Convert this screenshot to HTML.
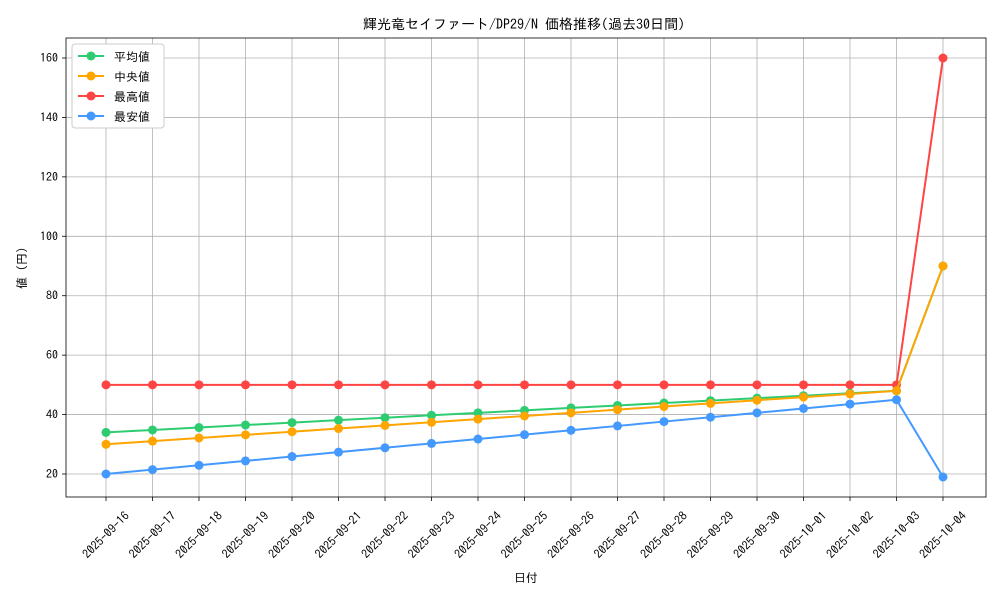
<!DOCTYPE html>
<html><head><meta charset="utf-8"><style>
body{margin:0;background:#fff;}
text{font-family:"IPAGothic","Noto Sans CJK JP",sans-serif;fill:#000;}
</style></head><body>
<svg id="s" width="1000" height="600" xmlns="http://www.w3.org/2000/svg">
<rect width="1000" height="600" fill="#fff"/>
<g id="grid" stroke="#b0b0b0" stroke-width="0.8"></g>
<rect x="66" y="38" width="920" height="459" fill="none" stroke="#000" stroke-width="0.8"/>
<g id="ticks"></g>
<g id="series"></g>
<text x="524" y="29" font-size="14" text-anchor="middle">輝光竜セイファート/DP29/N 価格推移(過去30日間)</text>
<text x="526" y="582" font-size="12" text-anchor="middle">日付</text>
<text transform="translate(26,268) rotate(-90)" font-size="12" text-anchor="middle">値 (円)</text>
<g transform="translate(72,44)">
<rect width="92" height="84" fill="#fff" stroke="#ccc" rx="3"/>
<line x1="6" y1="12" x2="32" y2="12" stroke="#2ecc71" stroke-width="2"/><circle cx="19" cy="12" r="4.5" fill="#2ecc71"/><text x="42" y="17" font-size="12">平均値</text>
<line x1="6" y1="32" x2="32" y2="32" stroke="#ffa500" stroke-width="2"/><circle cx="19" cy="32" r="4.5" fill="#ffa500"/><text x="42" y="37" font-size="12">中央値</text>
<line x1="6" y1="52" x2="32" y2="52" stroke="#ff4444" stroke-width="2"/><circle cx="19" cy="52" r="4.5" fill="#ff4444"/><text x="42" y="57" font-size="12">最高値</text>
<line x1="6" y1="72" x2="32" y2="72" stroke="#4499ff" stroke-width="2"/><circle cx="19" cy="72" r="4.5" fill="#4499ff"/><text x="42" y="77" font-size="12">最安値</text>
</g>
</svg>
<script>
const ns="http://www.w3.org/2000/svg";
function el(p,t,a,txt){const e=document.createElementNS(ns,t);for(const k in a)e.setAttribute(k,a[k]);if(txt!=null)e.textContent=txt;document.querySelector(p).appendChild(e);return e;}
const X=i=>106+i*46.5, Y=v=>474-(v-20)*2.9714;
const dates=["2025-09-16","2025-09-17","2025-09-18","2025-09-19","2025-09-20","2025-09-21","2025-09-22","2025-09-23","2025-09-24","2025-09-25","2025-09-26","2025-09-27","2025-09-28","2025-09-29","2025-09-30","2025-10-01","2025-10-02","2025-10-03","2025-10-04"];
dates.forEach((d,i)=>{el("#grid","line",{x1:X(i),x2:X(i),y1:38,y2:497});
el("#ticks","line",{x1:X(i),x2:X(i),y1:497,y2:501,stroke:"#000","stroke-width":0.8});
el("#ticks","text",{transform:`translate(${X(i)},${535}) rotate(-45)`,"font-size":12,"text-anchor":"middle",dy:4},d);});
for(let v=20;v<=160;v+=20){el("#grid","line",{x1:66,x2:986,y1:Y(v),y2:Y(v)});
el("#ticks","line",{x1:62,x2:66,y1:Y(v),y2:Y(v),stroke:"#000","stroke-width":0.8});
el("#ticks","text",{x:58,y:Y(v)+4,"font-size":12,"text-anchor":"end"},v);}
const mk=(a,b,last)=>{const r=[];for(let i=0;i<18;i++)r.push(a+(b-a)*i/17);r.push(last);return r;};
const S=[[mk(50,50,160),"#ff4444"],[mk(34,48,90),"#2ecc71"],[mk(30,48,90),"#ffa500"],[mk(20,45,19),"#4499ff"]];
S.forEach(([d,c])=>{el("#series","polyline",{points:d.map((v,i)=>X(i)+","+Y(v)).join(" "),fill:"none",stroke:c,"stroke-width":2});
d.forEach((v,i)=>el("#series","circle",{cx:X(i),cy:Y(v),r:4.5,fill:c}));});
</script>
</body></html>
